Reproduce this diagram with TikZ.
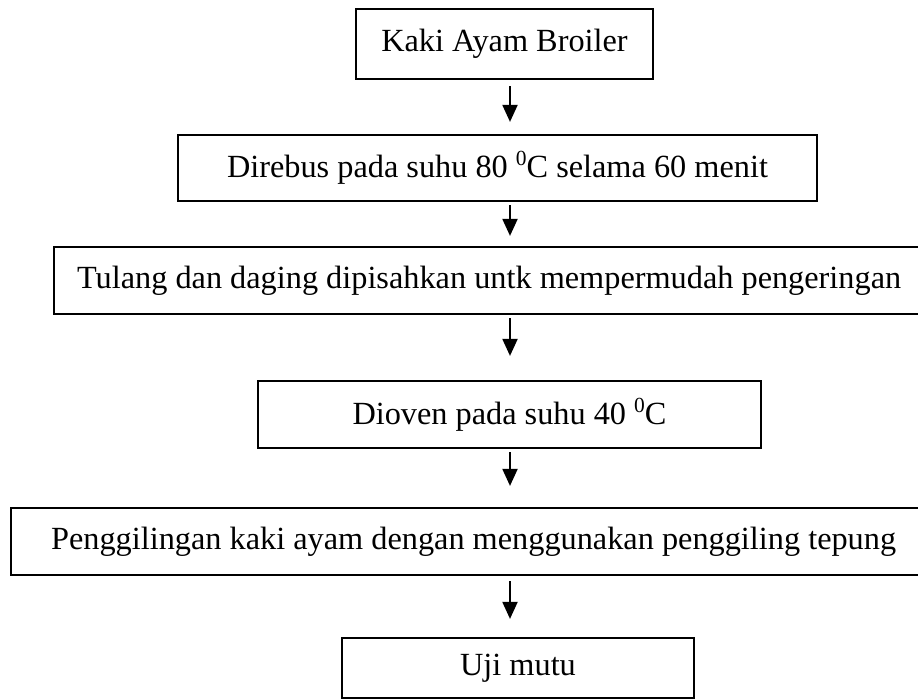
\documentclass[tikz,border=0pt]{standalone}
\usepackage{fontspec}
\setmainfont{Liberation Serif}
\usetikzlibrary{arrows.meta}
\newcommand{\derajat}{\raisebox{0.36em}{\fontsize{21.5}{24}\selectfont 0}}
\tikzset{
  langkah/.style={draw, line width=2.2pt, inner sep=0pt, font=\fontsize{32.3}{38}\selectfont},
  panah/.style={line width=2pt, -{Triangle[length=17pt,width=15pt]}}
}
\begin{document}
\begin{tikzpicture}[x=1pt, y=-1pt]
  \clip (0,0) rectangle (918,699);
  \coordinate (sumbu) at (510,0);

  \node[langkah, minimum width=297pt, minimum height=70pt] (kaki) at (504.5,44) {Kaki Ayam Broiler};
  \node[langkah, minimum width=639pt, minimum height=66pt] (rebus) at (497.5,168) {Direbus pada suhu 80 \derajat C selama 60 menit};
  \node[langkah, anchor=west, inner xsep=23pt, minimum height=67pt] (tulang) at (53,280.5) {Tulang dan daging dipisahkan untk mempermudah pengeringan};
  \node[langkah, minimum width=503pt, minimum height=67pt] (oven) at (509.5,414.5) {Dioven pada suhu 40 \derajat C};
  \node[langkah, anchor=west, inner xsep=40pt, minimum height=67pt] (giling) at (10,541.5) {Penggilingan kaki ayam dengan menggunakan penggiling tepung};
  \node[langkah, minimum width=352pt, minimum height=60pt] (uji) at (518,668) {Uji mutu};

  \draw[panah, shorten <=6pt, shorten >=12pt] (kaki.south -| sumbu) -- (rebus.north -| sumbu);
  \draw[panah, shorten <=3pt, shorten >=10pt] (rebus.south -| sumbu) -- (tulang.north -| sumbu);
  \draw[panah, shorten <=3pt, shorten >=24pt] (tulang.south -| sumbu) -- (oven.north -| sumbu);
  \draw[panah, shorten <=3pt, shorten >=21pt] (oven.south -| sumbu) -- (giling.north -| sumbu);
  \draw[panah, shorten <=5pt, shorten >=18pt] (giling.south -| sumbu) -- (uji.north -| sumbu);
\end{tikzpicture}
\end{document}
